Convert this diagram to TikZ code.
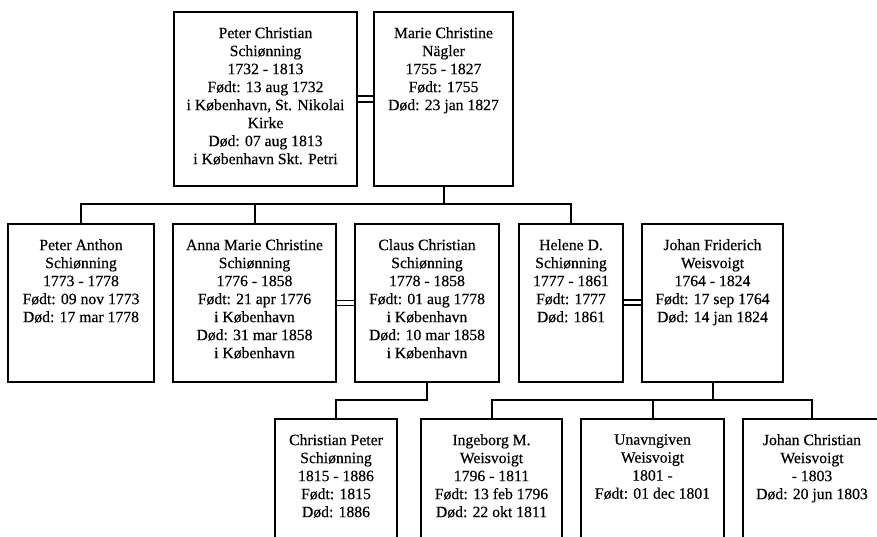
\documentclass[tikz,border=0pt]{standalone}
\usepackage{fontspec}
\setmainfont{Liberation Serif}[FakeBold=0.4]
\begin{document}
\begin{tikzpicture}[x=1pt,y=-1pt,
  pbox/.style={draw=black, line width=2pt, inner sep=0pt, fill=white},
  ptext/.style={anchor=north, yshift=-16pt, align=center, inner sep=0pt,
    font=\fontsize{15.7}{18}\selectfont},
  conn/.style={draw=black, line width=2pt},
  marr/.style={draw=black, line width=1.7pt}]
\clip (0,0) rectangle (877,536);
\fill[white] (0,0) rectangle (877,536);
% top row
\node[pbox, minimum width=183pt, minimum height=174pt] (A) at (265.5,99) {};
\node[pbox, minimum width=139pt, minimum height=174pt] (B) at (443.5,99) {};
% middle row
\node[pbox, minimum width=146pt, minimum height=158pt] (PA) at (81,303) {};
\node[pbox, minimum width=163pt, minimum height=158pt] (AM) at (254.5,303) {};
\node[pbox, minimum width=144pt, minimum height=158pt] (CC) at (427,303) {};
\node[pbox, minimum width=104pt, minimum height=158pt] (HD) at (571,303) {};
\node[pbox, minimum width=141pt, minimum height=158pt] (JF) at (712.5,303) {};
% bottom row
\node[pbox, minimum width=122pt, minimum height=141pt] (CP) at (336,489.5) {};
\node[pbox, minimum width=141pt, minimum height=141pt] (IM) at (491.5,489.5) {};
\node[pbox, minimum width=143pt, minimum height=141pt] (UW) at (652.5,489.5) {};
\node[pbox, minimum width=138pt, minimum height=141pt] (JC) at (812,489.5) {};
% texts
\node[ptext] (At) at (A.north) {Peter Christian\\Schiønning\\1732 - 1813\\Født: 13 aug 1732\\i København, St. Nikolai\\Kirke\\Død: 07 aug 1813\\i København Skt. Petri};
\node[ptext] (Bt) at (B.north) {Marie Christine\\Nägler\\1755 - 1827\\Født: 1755\\Død: 23 jan 1827};
\node[ptext] (PAt) at (PA.north) {Peter Anthon\\Schiønning\\1773 - 1778\\Født: 09 nov 1773\\Død: 17 mar 1778};
\node[ptext] (AMt) at (AM.north) {Anna Marie Christine\\Schiønning\\1776 - 1858\\Født: 21 apr 1776\\i København\\Død: 31 mar 1858\\i København};
\node[ptext] (CCt) at (CC.north) {Claus Christian\\Schiønning\\1778 - 1858\\Født: 01 aug 1778\\i København\\Død: 10 mar 1858\\i København};
\node[ptext] (HDt) at (HD.north) {Helene D.\\Schiønning\\1777 - 1861\\Født: 1777\\Død: 1861};
\node[ptext] (JFt) at (JF.north) {Johan Friderich\\Weisvoigt\\1764 - 1824\\Født: 17 sep 1764\\Død: 14 jan 1824};
\node[ptext] (CPt) at (CP.north) {Christian Peter\\Schiønning\\1815 - 1886\\Født: 1815\\Død: 1886};
\node[ptext] (IMt) at (IM.north) {Ingeborg M.\\Weisvoigt\\1796 - 1811\\Født: 13 feb 1796\\Død: 22 okt 1811};
\node[ptext] (UWt) at (UW.north) {Unavngiven\\Weisvoigt\\1801 -\\Født: 01 dec 1801};
\node[ptext] (JCt) at (JC.north) {Johan Christian\\Weisvoigt\\- 1803\\Død: 20 jun 1803};
% marriages
\draw[marr] ([yshift=3pt]A.east) -- ([yshift=3pt]B.west);
\draw[marr] ([yshift=-3pt]A.east) -- ([yshift=-3pt]B.west);
\draw[marr] ([yshift=2.5pt]AM.east) -- ([yshift=2.5pt]CC.west);
\draw[marr] ([yshift=-2.5pt]AM.east) -- ([yshift=-2.5pt]CC.west);
\draw[marr] ([yshift=3pt]HD.east) -- ([yshift=3pt]JF.west);
\draw[marr] ([yshift=-2pt]HD.east) -- ([yshift=-2pt]JF.west);
% descent lines
\coordinate (bar1) at (0,204);
\coordinate (bar2) at (0,400);
\draw[conn] (B.south) -- (B.south |- bar1);
\draw[conn] (PA.north) -- (PA.north |- bar1) -- (HD.north |- bar1) -- (HD.north);
\draw[conn] (AM.north) -- (AM.north |- bar1);
\draw[conn] (CC.south) -- (CC.south |- bar2) -- (CP.north |- bar2) -- (CP.north);
\draw[conn] (JF.south) -- (JF.south |- bar2);
\draw[conn] (IM.north) -- (IM.north |- bar2) -- (JC.north |- bar2) -- (JC.north);
\draw[conn] (UW.north) -- (UW.north |- bar2);
\end{tikzpicture}
\end{document}
